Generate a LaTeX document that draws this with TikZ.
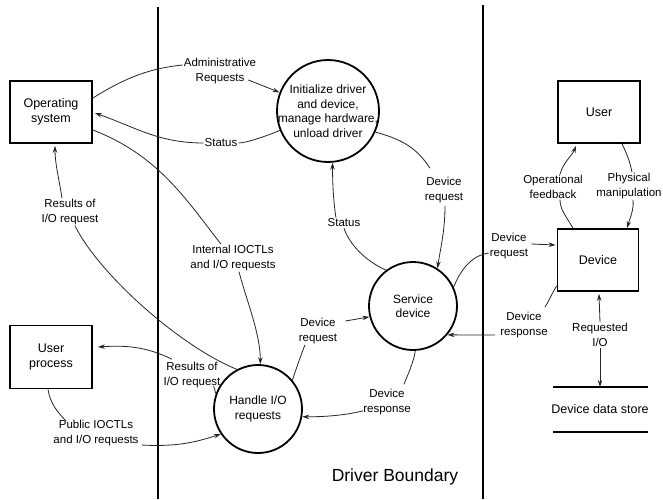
\documentclass[tikz,border=0pt]{standalone}
\usepackage{fontspec}
\setmainfont{Liberation Sans}
\usetikzlibrary{arrows.meta,calc}

\begin{document}
\begin{tikzpicture}[x=1pt,y=-1pt,
  flow/.style={line width=0.8pt, draw=black!85},
  arr/.style={flow,-{Stealth[length=7pt,width=4.5pt]}},
  extbox/.style={draw, line width=1.8pt, minimum width=82pt, minimum height=62pt,
    align=center, font=\fontsize{12.5}{15}\selectfont, inner sep=0pt},
  proc/.style={draw, circle, line width=1.8pt, inner sep=0pt},
  proctext/.style={align=center, font=\fontsize{12}{14.5}\selectfont, inner sep=0pt},
  lbl/.style={align=center, font=\fontsize{11.5}{14.5}\selectfont, inner sep=1pt},
  boundary/.style={line width=1.6pt}
]
\useasboundingbox (0,0) rectangle (663,499);

% driver boundary lines
\draw[boundary] (158,7) -- (158,499);
\draw[boundary] (483,5) -- (483,499);
\node[font=\fontsize{17.5}{20}\selectfont] (bnd) at (395,477) {Driver Boundary};

% external entities
\node[extbox] (os) at (51,112) {Operating\\system};
\node[extbox, minimum height=63pt] (up) at (51,357) {User\\process};
\node[extbox] (user) at (599,112) {User};
\node[extbox, minimum width=81pt] (dev) at (598,260) {Device};

% processes
\node[proc, minimum size=102pt,
  label={[proctext]center:{Initialize driver\\and device,\\manage hardware,\\unload driver}}]
  (init) at (328,111) {};
\node[proc, minimum size=88pt, label={[proctext]center:{Service\\device}}] (svc) at (413,306) {};
\node[proc, minimum size=88pt, label={[proctext]center:{Handle I/O\\requests}}] (hio) at (258,409) {};

% data store
\node[font=\fontsize{12.5}{15}\selectfont] (store) at (600,409) {Device data store};
\coordinate (storetop) at ($(store.center)+(0,-22)$);
\draw[line width=1.4pt] ($(storetop)+(-47,0)$) -- ++(95,0);
\draw[line width=1.4pt] ($(store.center)+(-47,23)$) -- ++(95,0);

% flow labels
\node[lbl] (lAdmin) at (220,71) {Administrative\\Requests};
\node[lbl] (lStat1) at (221,143) {Status};
\node[lbl] (lRes1) at (70,212) {Results of\\I/O request};
\node[lbl] (lInt) at (233,258) {Internal IOCTLs\\and I/O requests};
\node[lbl] (lRes2) at (192,375) {Results of\\I/O request};
\node[lbl] (lPub) at (96,433) {Public IOCTLs\\and I/O requests};
\node[lbl] (lDreq1) at (318,331) {Device\\request};
\node[lbl] (lDresp1) at (387,402) {Device\\response};
\node[lbl] (lStat2) at (344,223) {Status};
\node[lbl] (lDreq2) at (444,190) {Device\\request};
\node[lbl] (lDreq3) at (509,246) {Device\\request};
\node[lbl] (lDresp2) at (524,325) {Device\\response};
\node[lbl] (lOp) at (553,187) {Operational\\feedback};
\node[lbl] (lPhys) at (629,186) {Physical\\manipulation};
\node[lbl] (lReqIO) at (600,335) {Requested\\I/O};

% administrative requests
\draw[flow] ($(os.east)+(0,-14)$) .. controls +(35,-22) and +(-30,3) .. ($(lAdmin.west)+(0,-6)$);
\draw[arr] ($(lAdmin.east)+(-9,9)$) -- (init.159);

% status back to the operating system
\draw[flow] (init.202) .. controls +(-12,5) and +(8,0) .. (lStat1.east);
\draw[arr] (lStat1.west) .. controls +(-45,0) and +(40,14) .. ($(os.east)+(2,1)$);

% internal IOCTLs
\draw[flow] ($(os.east)+(0,18)$) .. controls +(65,25) and +(-35,-45) .. ($(lInt.north)+(-12,0)$);
\draw[arr] ($(lInt.south)+(6,0)$) .. controls +(8,30) and +(0,-30) .. (hio.87);

% results to the operating system
\draw[flow] (hio.118) .. controls +(-55,-22) and +(25,50) .. ($(lRes1.south)+(5,0)$);
\draw[arr] ($(lRes1.north)+(-8,0)$) .. controls +(-3,-20) and +(0,18) .. ($(os.south)+(4,2)$);

% results to the user process
\draw[flow] (hio.160) -- ($(lRes2.east)+(-8,11)$);
\draw[arr] ($(lRes2.north)+(-20,-2)$) .. controls +(-25,-12) and +(30,-2) .. ($(up.east)+(5,-10)$);

% public IOCTLs
\draw[flow] ($(up.south)+(-3,0)$) .. controls +(2,14) and +(-8,-8) .. ($(lPub.north west)+(14,2)$);
\draw[arr] ($(lPub.east)+(2,12)$) .. controls +(35,2) and +(-25,8) .. (hio.214);

% device request, handler to service
\draw[flow] (hio.40) .. controls +(4,-12) and +(-4,10) .. ($(lDreq1.south)+(-13,0)$);
\draw[arr] ($(lDreq1.east)+(7,-10)$) -- (svc.194);

% device response, service to handler
\draw[flow] (svc.273) .. controls +(-2,12) and +(4,-10) .. ($(lDresp1.north)+(17,-4)$);
\draw[arr] ($(lDresp1.south west)+(1,-5)$) .. controls +(-20,5) and +(20,0) .. (hio.350);

% status, service to init
\draw[flow] (svc.127) .. controls +(-22,-10) and +(5,15) .. (lStat2.south);
\draw[arr] ($(lStat2.north)+(-8,0)$) .. controls +(-3,-18) and +(0,15) .. (init.275);

% device request, init to service
\draw[flow] (init.336) .. controls +(30,8) and +(-12,-18) .. ($(lDreq2.north)+(-14,-8)$);
\draw[arr] ($(lDreq2.south)+(1,2)$) .. controls +(0,25) and +(3,-20) .. (svc.57);

% device request, service to device
\draw[flow] (svc.25) .. controls +(8,-20) and +(-15,2) .. ($(lDreq3.west)+(0,7)$);
\draw[arr] ($(lDreq3.east)+(2,-2)$) -- ($(dev.west)+(-1,-15)$);

% device response, device to service
\draw[flow] ($(dev.west)+(0,26)$) .. controls +(-5,8) and +(4,-6) .. ($(lDresp2.north east)+(-4,-4)$);
\draw[arr] ($(lDresp2.west)+(-4,10)$) -- (svc.320);

% operational feedback
\draw[flow] ($(dev.north)+(-25,0)$) .. controls +(-7,-12) and +(0,10) .. ($(lOp.south)+(7,0)$);
\draw[arr] ($(lOp.north)+(7,0)$) .. controls +(3,-12) and +(-4,10) .. ($(user.south)+(-23,2)$);

% physical manipulation
\draw[flow] ($(user.south)+(23,0)$) .. controls +(5,10) and +(-2,-10) .. ($(lPhys.north)+(3,0)$);
\draw[arr] ($(lPhys.south)+(4,0)$) .. controls +(1,10) and +(3,-10) .. ($(dev.north)+(29,0)$);

% requested I/O
\draw[arr] (lReqIO.north) -- ($(dev.south)+(1,2)$);
\draw[arr] (lReqIO.south) -- (storetop);
\end{tikzpicture}
\end{document}
